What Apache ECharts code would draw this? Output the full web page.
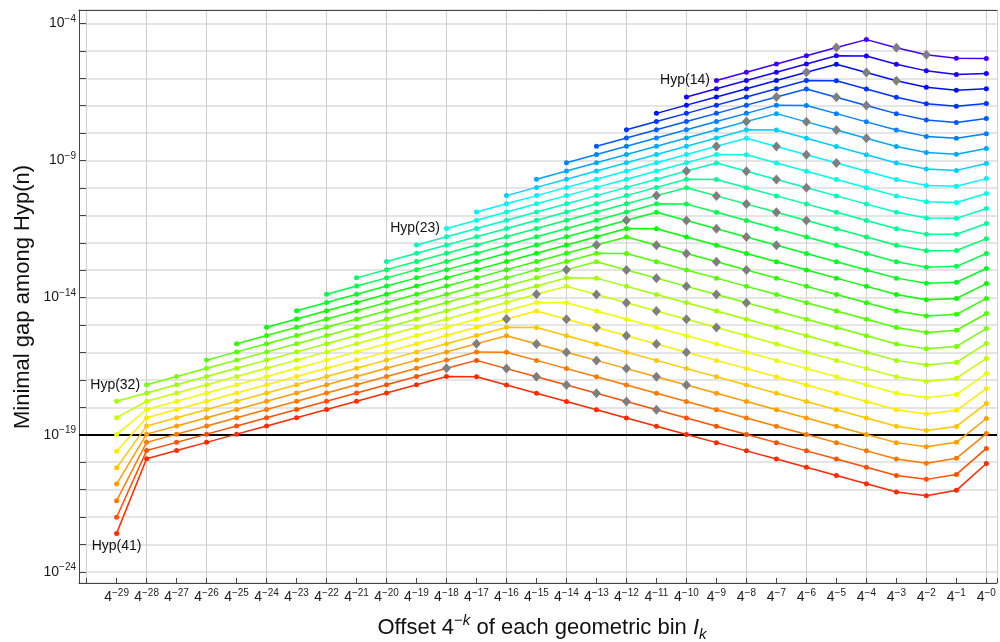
<!DOCTYPE html>
<html><head><meta charset="utf-8">
<script src="https://cdn.jsdelivr.net/npm/echarts@6/dist/echarts.min.js"></script>
<style>html,body{margin:0;padding:0;background:#fff}#c{width:1000px;height:642px}</style>
</head><body><div id="c"></div>
<script>
// bins: offset 4^-k, k from 29 down to 0
const binK = [29,28,27,26,25,24,23,22,21,20,19,18,17,16,15,14,13,12,11,10,9,8,7,6,5,4,3,2,1,0];
const hypN = [14,15,16,17,18,19,20,21,22,23,24,25,26,27,28,29,30,31,32,33,34,35,36,37,38,39,40,41];
// log10 of minimal gap, each series ends at bin 4^-0 (leading bins absent)
const hyp14 = [-6.08,-5.78,-5.48,-5.18,-4.88,-4.59,-4.89,-5.14,-5.27,-5.28];
const hyp15 = [-6.68,-6.38,-6.08,-5.78,-5.48,-5.18,-5.19,-5.49,-5.73,-5.86,-5.83];
const hyp16 = [-7.28,-6.98,-6.68,-6.38,-6.08,-5.78,-5.49,-5.79,-6.09,-6.33,-6.44,-6.38];
const hyp17 = [-7.88,-7.58,-7.28,-6.98,-6.68,-6.38,-6.08,-6.09,-6.39,-6.69,-6.93,-7.02,-6.92];
const hyp18 = [-8.48,-8.18,-7.88,-7.58,-7.28,-6.98,-6.68,-6.39,-6.69,-6.99,-7.29,-7.52,-7.61,-7.47];
const hyp19 = [-9.08,-8.78,-8.48,-8.18,-7.88,-7.58,-7.28,-6.98,-6.99,-7.29,-7.59,-7.89,-8.12,-8.19,-8.02];
const hyp20 = [-9.68,-9.38,-9.08,-8.78,-8.48,-8.18,-7.88,-7.58,-7.29,-7.59,-7.89,-8.19,-8.49,-8.71,-8.77,-8.56];
const hyp21 = [-10.28,-9.98,-9.68,-9.38,-9.08,-8.78,-8.48,-8.18,-7.88,-7.89,-8.19,-8.49,-8.79,-9.09,-9.31,-9.36,-9.11];
const hyp22 = [-10.88,-10.58,-10.28,-9.98,-9.68,-9.38,-9.08,-8.78,-8.48,-8.19,-8.49,-8.79,-9.09,-9.39,-9.69,-9.91,-9.94,-9.66];
const hyp23 = [-11.48,-11.18,-10.88,-10.58,-10.28,-9.98,-9.68,-9.38,-9.08,-8.78,-8.79,-9.09,-9.39,-9.69,-9.99,-10.29,-10.50,-10.53,-10.20];
const hyp24 = [-12.08,-11.78,-11.48,-11.18,-10.88,-10.58,-10.28,-9.98,-9.68,-9.38,-9.09,-9.39,-9.69,-9.99,-10.29,-10.59,-10.89,-11.10,-11.11,-10.75];
const hyp25 = [-12.68,-12.38,-12.08,-11.78,-11.48,-11.18,-10.88,-10.58,-10.28,-9.98,-9.68,-9.69,-9.99,-10.29,-10.59,-10.89,-11.19,-11.49,-11.69,-11.69,-11.30];
const hyp26 = [-13.28,-12.98,-12.68,-12.38,-12.08,-11.78,-11.48,-11.18,-10.88,-10.58,-10.28,-9.99,-10.29,-10.59,-10.89,-11.19,-11.49,-11.79,-12.09,-12.29,-12.28,-11.85];
const hyp27 = [-13.88,-13.58,-13.28,-12.98,-12.68,-12.38,-12.08,-11.78,-11.48,-11.18,-10.88,-10.58,-10.59,-10.89,-11.19,-11.49,-11.79,-12.09,-12.39,-12.69,-12.89,-12.86,-12.39];
const hyp28 = [-14.48,-14.18,-13.88,-13.58,-13.28,-12.98,-12.68,-12.38,-12.08,-11.78,-11.48,-11.18,-10.89,-11.19,-11.49,-11.79,-12.09,-12.39,-12.69,-12.99,-13.29,-13.48,-13.44,-12.94];
const hyp29 = [-15.08,-14.78,-14.48,-14.18,-13.88,-13.58,-13.28,-12.98,-12.68,-12.38,-12.08,-11.78,-11.48,-11.49,-11.79,-12.09,-12.39,-12.69,-12.99,-13.29,-13.59,-13.89,-14.08,-14.03,-13.49];
const hyp30 = [-15.68,-15.38,-15.08,-14.78,-14.48,-14.18,-13.88,-13.58,-13.28,-12.98,-12.68,-12.38,-12.08,-11.79,-12.09,-12.39,-12.69,-12.99,-13.29,-13.59,-13.89,-14.19,-14.49,-14.67,-14.61,-14.03];
const hyp31 = [-16.28,-15.98,-15.68,-15.38,-15.08,-14.78,-14.48,-14.18,-13.88,-13.58,-13.28,-12.98,-12.68,-12.38,-12.39,-12.69,-12.99,-13.29,-13.59,-13.89,-14.19,-14.49,-14.79,-15.09,-15.27,-15.19,-14.58];
const hyp32 = [-17.18,-16.88,-16.58,-16.28,-15.98,-15.68,-15.38,-15.08,-14.78,-14.48,-14.18,-13.88,-13.58,-13.28,-12.98,-12.69,-12.99,-13.29,-13.59,-13.89,-14.19,-14.49,-14.79,-15.09,-15.39,-15.69,-15.87,-15.78,-15.13];
const hyp33 = [-17.78,-17.48,-17.18,-16.88,-16.58,-16.28,-15.98,-15.68,-15.38,-15.08,-14.78,-14.48,-14.18,-13.88,-13.58,-13.28,-13.29,-13.59,-13.89,-14.19,-14.49,-14.79,-15.09,-15.39,-15.69,-15.99,-16.29,-16.46,-16.36,-15.67];
const hyp34 = [-18.38,-17.78,-17.48,-17.18,-16.88,-16.58,-16.28,-15.98,-15.68,-15.38,-15.08,-14.78,-14.48,-14.18,-13.88,-13.59,-13.89,-14.19,-14.49,-14.79,-15.09,-15.39,-15.69,-15.99,-16.29,-16.59,-16.89,-17.06,-16.94,-16.22];
const hyp35 = [-18.99,-18.08,-17.78,-17.48,-17.18,-16.88,-16.58,-16.28,-15.98,-15.68,-15.38,-15.08,-14.78,-14.48,-14.18,-14.19,-14.49,-14.79,-15.09,-15.39,-15.69,-15.99,-16.29,-16.59,-16.89,-17.19,-17.49,-17.65,-17.53,-16.77];
const hyp36 = [-19.60,-18.38,-18.08,-17.78,-17.48,-17.18,-16.88,-16.58,-16.28,-15.98,-15.68,-15.38,-15.08,-14.78,-14.49,-14.79,-15.09,-15.39,-15.69,-15.99,-16.29,-16.59,-16.89,-17.19,-17.49,-17.79,-18.09,-18.25,-18.11,-17.32];
const hyp37 = [-20.21,-18.68,-18.38,-18.08,-17.78,-17.48,-17.18,-16.88,-16.58,-16.28,-15.98,-15.68,-15.38,-15.08,-15.09,-15.39,-15.69,-15.99,-16.29,-16.59,-16.89,-17.19,-17.49,-17.79,-18.09,-18.39,-18.69,-18.85,-18.70,-17.86];
const hyp38 = [-20.80,-18.98,-18.68,-18.38,-18.08,-17.78,-17.48,-17.18,-16.88,-16.58,-16.28,-15.98,-15.68,-15.39,-15.69,-15.99,-16.29,-16.59,-16.89,-17.19,-17.49,-17.79,-18.09,-18.39,-18.69,-18.99,-19.29,-19.44,-19.28,-18.41];
const hyp39 = [-21.41,-19.28,-18.98,-18.68,-18.38,-18.08,-17.78,-17.48,-17.18,-16.88,-16.58,-16.28,-15.98,-15.99,-16.29,-16.59,-16.89,-17.19,-17.49,-17.79,-18.09,-18.39,-18.69,-18.99,-19.29,-19.59,-19.89,-20.04,-19.86,-18.96];
const hyp40 = [-22.01,-19.58,-19.28,-18.98,-18.68,-18.38,-18.08,-17.78,-17.48,-17.18,-16.88,-16.58,-16.29,-16.59,-16.89,-17.19,-17.49,-17.79,-18.09,-18.39,-18.69,-18.99,-19.29,-19.59,-19.89,-20.19,-20.49,-20.63,-20.45,-19.50];
const hyp41 = [-22.60,-19.88,-19.58,-19.28,-18.98,-18.68,-18.38,-18.08,-17.78,-17.48,-17.18,-16.88,-16.89,-17.19,-17.49,-17.79,-18.09,-18.39,-18.69,-18.99,-19.29,-19.59,-19.89,-20.19,-20.49,-20.79,-21.09,-21.23,-21.03,-20.05];
const lineColors = ['#4000ff','#1900ff','#000dff','#0034ff','#005aff','#0081ff','#00a8ff','#00ceff','#00f5ff','#00ffe3','#00ffbc','#00ff96','#00ff6f','#00ff48','#00ff22','#05ff00','#2bff00','#52ff00','#78ff00','#9fff00','#c6ff00','#ecff00','#ffeb00','#ffc500','#ff9e00','#ff7800','#ff5100','#ff2a00'];
// gray diamond markers: series and the k of the bins they sit on
const diamondHyp = [14,16,18,20,22,24,26,28,30,32,34,36,38,40];
const diamondK = [[5,3,2],[6,4,3],[7,5,4],[8,6,5,4],[9,7,6,5],[10,8,7,6],[11,9,8,7,6],[12,10,9,8,7],[13,11,10,9,8],[14,12,11,10,9,8],[15,13,12,11,10,9],[16,14,13,12,11,10],[17,15,14,13,12,11,10],[18,16,15,14,13,12,11]];
const tagHyp = [14,23,32,41];
const tagPos = ['left','left','left','bottom'];
const yLabelExp = [-4,-9,-14,-19,-24];
const thresholdExp = -19;

const rows = [hyp14,hyp15,hyp16,hyp17,hyp18,hyp19,hyp20,hyp21,hyp22,hyp23,hyp24,hyp25,hyp26,hyp27,hyp28,hyp29,hyp30,hyp31,hyp32,hyp33,hyp34,hyp35,hyp36,hyp37,hyp38,hyp39,hyp40,hyp41];
const FONT = '"Liberation Sans", Arial, Helvetica, sans-serif';

const series = rows.map((row, s) => {
  const n = hypN[s];
  const col = lineColors[s];
  const di = diamondHyp.indexOf(n);
  const dset = di >= 0 ? diamondK[di] : [];
  const ti = tagHyp.indexOf(n);
  const start = binK.length - row.length;
  const data = row.map((v, i) => {
    const k = binK[start + i];
    const item = { value: [-k, v] };
    if (dset.indexOf(k) >= 0) {
      item.symbol = 'diamond';
      item.symbolSize = [9, 10];
      item.itemStyle = { color: '#7f7f7f' };
    }
    if (i === 0 && ti >= 0) {
      item.label = { show: true, position: tagPos[ti], distance: tagPos[ti] === 'bottom' ? 3 : 4,
        formatter: 'Hyp(' + n + ')', color: '#111', fontSize: 14, fontFamily: FONT };
    }
    return item;
  });
  return {
    type: 'line', name: 'Hyp(' + n + ')', data: data,
    xAxisIndex: 0, yAxisIndex: 0,
    symbol: 'circle', symbolSize: 5, showSymbol: true,
    lineStyle: { color: col, width: 1.5 }, itemStyle: { color: col },
    emphasis: { disabled: true }, z: 3, animation: false
  };
});
series.push({
  type: 'line', data: [], xAxisIndex: 0, yAxisIndex: 0, silent: true,
  markLine: { silent: true, z: 2, symbol: ['none', 'none'], label: { show: false },
    lineStyle: { color: '#000', width: 2, type: 'solid' },
    emphasis: { disabled: true },
    data: [{ yAxis: thresholdExp }] }
});

const supRich = {
  b: { fontSize: 14, fontFamily: FONT, color: '#1a1a1a', lineHeight: 19 },
  s: { fontSize: 10, fontFamily: FONT, color: '#1a1a1a', lineHeight: 10, padding: [0, 0, 9, 0] }
};
const isInt = v => Math.abs(v - Math.round(v)) < 1e-6;

const chart = echarts.init(document.getElementById('c'), null, { renderer: 'canvas' });
chart.setOption({
  animation: false,
  backgroundColor: '#fff',
  grid: { left: 79, top: 10, right: 0, bottom: 59, containLabel: false },
  xAxis: [{
    type: 'value', min: -30.253, max: 0.356, minInterval: 1, maxInterval: 1, splitNumber: 30,
    position: 'bottom',
    axisLine: { show: true, onZero: false, lineStyle: { color: '#444', width: 1 } },
    axisTick: { show: true, inside: true, length: 5, lineStyle: { color: '#444' } },
    splitLine: { show: false },
    axisLabel: { margin: 5, rich: supRich,
      formatter: v => { if (!isInt(v)) return ''; const k = -Math.round(v); if (binK.indexOf(k) < 0) return ''; return '{b|4}{s|\u2212' + k + '}'; } }
  }, {
    type: 'value', min: -30.253, max: 0.356, minInterval: 2, maxInterval: 2, splitNumber: 15,
    position: 'top',
    axisLine: { show: true, onZero: false, lineStyle: { color: '#444', width: 1 } },
    axisTick: { show: false }, axisLabel: { show: false },
    splitLine: { show: true, lineStyle: { color: '#cfcfcf', width: 1 } }
  }],
  yAxis: {
    type: 'value', min: -24.41, max: -3.51, minInterval: 1, maxInterval: 1, splitNumber: 21,
    axisLine: { show: true, onZero: false, lineStyle: { color: '#444', width: 1 } },
    axisTick: { show: true, inside: true, length: 7, lineStyle: { color: '#444' } },
    splitLine: { show: true, lineStyle: { color: '#dcdcdc', width: 1.5 } },
    axisLabel: { margin: 3, rich: supRich,
      formatter: v => { if (!isInt(v)) return ''; const e = Math.round(v); if (yLabelExp.indexOf(e) < 0) return ''; return '{b|10}{s|\u2212' + (-e) + '}'; } }
  },
  graphic: [{
    type: 'text', x: 542, y: 628, silent: true,
    style: {
      text: 'Offset 4{sm|\u2212}{sk|k} of each geometric bin {it|I}{sub|k}',
      fontSize: 22, fontFamily: FONT, fill: '#111', align: 'center', verticalAlign: 'middle', lineHeight: 29,
      rich: {
        sm: { fontSize: 15, fontFamily: FONT, fill: '#111', lineHeight: 15, padding: [0, 0, 14, 0] },
        sk: { fontSize: 15, fontFamily: FONT, fontStyle: 'italic', fill: '#111', lineHeight: 15, padding: [0, 0, 14, 0] },
        it: { fontSize: 22, fontFamily: FONT, fontStyle: 'italic', fill: '#111', lineHeight: 29 },
        sub: { fontSize: 15, fontFamily: FONT, fontStyle: 'italic', fill: '#111', lineHeight: 15, padding: [14, 0, 0, 0] }
      }
    }
  }, {
    type: 'text', x: 23, y: 297, rotation: Math.PI / 2, silent: true,
    style: { text: 'Minimal gap among Hyp(n)', fontSize: 22, fontFamily: FONT, fill: '#111', align: 'center', verticalAlign: 'middle' }
  }],
  series: series
});
</script>
</body></html>
